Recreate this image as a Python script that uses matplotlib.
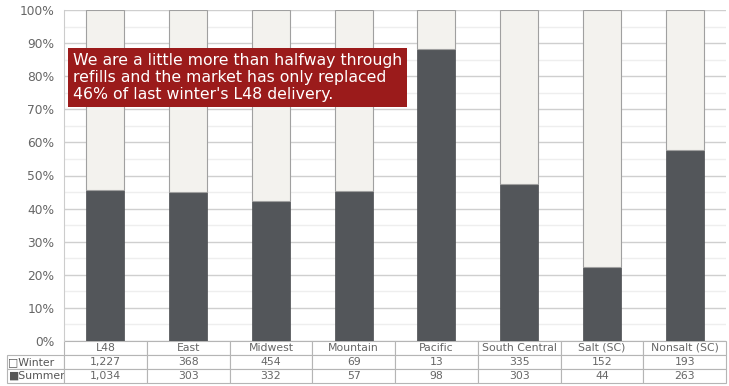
import numpy as np
import matplotlib
matplotlib.use('Agg')
from matplotlib import pyplot as plt

categories = ['L48', 'East', 'Midwest', 'Mountain', 'Pacific', 'South Central', 'Salt (SC)', 'Nonsalt (SC)']
winter = [1227, 368, 454, 69, 13, 335, 152, 193]
summer = [1034, 303, 332, 57, 98, 303, 44, 263]
row_labels = ['\u25a1Winter', '\u25a0Summer']
yticks = np.arange(0, 101, 10)

dark = '#53565a'
light = '#f3f2ee'
txtcol = '#666666'

w = np.array(winter, dtype=float)
s = np.array(summer, dtype=float)
tot = w + s
s_pct = s / tot * 100
w_pct = w / tot * 100

fig = plt.figure(figsize=(7.29, 3.86), dpi=100)
ax = fig.add_axes([64/729, 1-341/386, 662/729, 331/386])

x = np.arange(len(categories))
ax.bar(x, s_pct, width=0.46, color=dark, edgecolor='#4a4c50', linewidth=0.5, zorder=3)
ax.bar(x, w_pct, bottom=s_pct, width=0.46, color=light, edgecolor='#a0a0a0', linewidth=0.8, zorder=3)

ax.set_xlim(-0.5, len(categories) - 0.5)
ax.set_ylim(0, 100)
ax.set_yticks(yticks)
ax.set_yticklabels([f'{v}%' for v in yticks], color=txtcol, fontsize=8.8)
ax.set_yticks(np.arange(5, 100, 10), minor=True)
ax.tick_params(axis='y', length=0, pad=7, which='both')
ax.set_xticks([])
ax.grid(axis='y', which='major', color='#cfcfcf', linewidth=1.0, zorder=0)
ax.grid(axis='y', which='minor', color='#eeeeee', linewidth=1.0, zorder=0)
for sp in ['top', 'right', 'bottom']:
    ax.spines[sp].set_visible(False)
ax.spines['left'].set_color('#cccccc')

# data table under the chart (first column holds the row labels)
ncol = len(categories)
lw = 57 / 662
header = [''] + categories
rows = [[row_labels[0]] + [f'{v:,}' for v in winter],
        [row_labels[1]] + [f'{v:,}' for v in summer]]
tbl = ax.table(cellText=[header] + rows, cellLoc='center',
               colWidths=[lw] + [1 / ncol] * ncol,
               bbox=[-lw, -42/331, 1 + lw, 42/331])
tbl.auto_set_font_size(False)
tbl.set_fontsize(7.8)
for (r, c), cell in tbl.get_celld().items():
    cell.set_edgecolor('#b5b5b5')
    cell.set_linewidth(0.8)
    cell.get_text().set_color(txtcol)
    if c == 0:
        cell.PAD = 0.01
        cell.get_text().set_ha('left')
        cell._loc = 'left'
        cell.get_text().set_color('#555555')
        if r == 0:
            cell.set_visible(False)

ax.text(0.013, 0.796,
        "We are a little more than halfway through\nrefills and the market has only replaced\n46% of last winter's L48 delivery.",
        transform=ax.transAxes, ha='left', va='center', color='white', fontsize=11.3,
        linespacing=1.2, zorder=6,
        bbox=dict(boxstyle='square,pad=0.3', facecolor='#9b1b1b', edgecolor='none'))

fig.savefig('out.png', dpi=100)
